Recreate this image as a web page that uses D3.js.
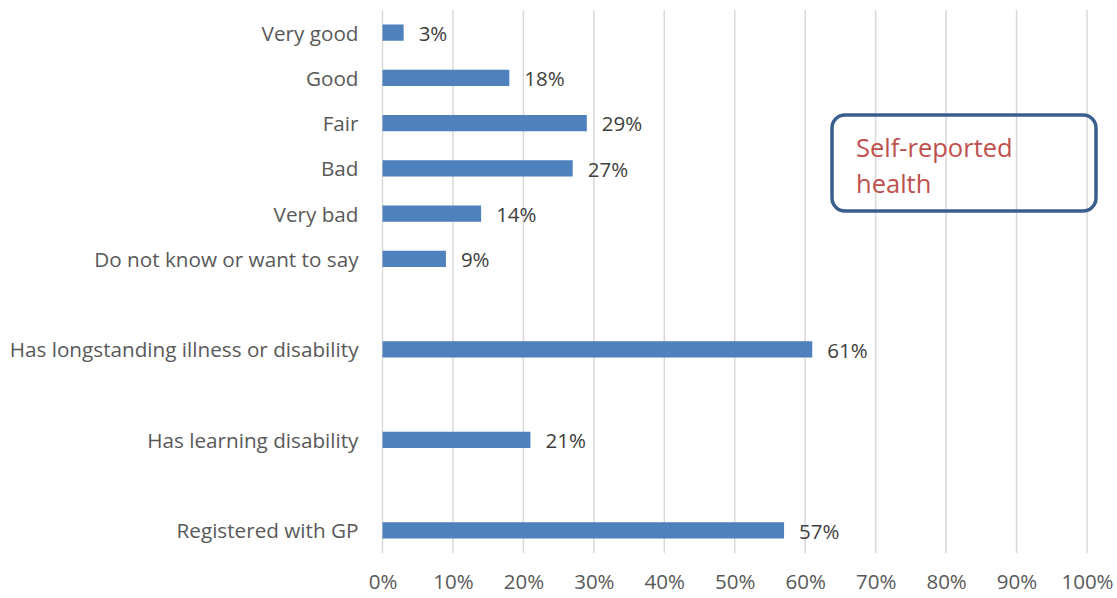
<!DOCTYPE html>
<html>
<head>
<meta charset="utf-8">
<script src="https://cdn.jsdelivr.net/npm/d3@7"></script>
<style>
  html, body { margin: 0; padding: 0; background: #fff; }
  svg text { font-family: "Open Sans", Lato, "Liberation Sans", sans-serif; }
</style>
</head>
<body>
<svg id="chart" width="1117" height="598"></svg>
<script>
// Category slots, top to bottom; empty strings are spacer rows between groups
const categories = [
  "Very good", "Good", "Fair", "Bad", "Very bad", "Do not know or want to say",
  "", "Has longstanding illness or disability",
  "", "Has learning disability",
  "", "Registered with GP"
];
// Percentage for each slot (null for spacer rows)
const values = [3, 18, 29, 27, 14, 9, null, 61, null, 21, null, 57];
const xTicks = [0, 10, 20, 30, 40, 50, 60, 70, 80, 90, 100];
const noteLines = ["Self-reported", "health"];

const svg = d3.select("#chart");
const margin = { top: 10, right: 30, bottom: 45, left: 382.5 };
const W = 1117, H = 598;
const innerW = W - margin.left - margin.right;
const innerH = H - margin.top - margin.bottom;

const slots = categories.map((c, i) => "slot" + i);
const x = d3.scaleLinear().domain([0, 100]).range([0, innerW]);
const y = d3.scaleBand().domain(slots).range([0, innerH]).paddingInner(0.64).paddingOuter(0.32);

const g = svg.append("g").attr("transform", `translate(${margin.left},${margin.top})`);

// Vertical gridlines
g.append("g").selectAll("line").data(xTicks).join("line")
  .attr("x1", d => x(d)).attr("x2", d => x(d))
  .attr("y1", 0).attr("y2", innerH)
  .attr("stroke", "#d9d9d9").attr("stroke-width", 1.5);

// X axis tick labels
const xAxis = d3.axisBottom(x).tickValues(xTicks).tickFormat(d => d + "%").tickSize(0).tickPadding(21);
const xa = g.append("g").attr("transform", `translate(0,${innerH})`).call(xAxis);
xa.select(".domain").remove();
xa.selectAll("text").attr("fill", "#595959").style("font-size", "20.5px");

// Y axis category labels
const yAxis = d3.axisLeft(y).tickFormat((d, i) => categories[i]).tickSize(0).tickPadding(24);
const ya = g.append("g").call(yAxis);
ya.select(".domain").remove();
ya.selectAll("text").attr("fill", "#595959")
  .attr("dy", "0.38em").style("font-size", "20.7px");

const rows = categories.map((c, i) => ({ slot: slots[i], v: values[i] })).filter(d => d.v != null);

// Bars
g.append("g").selectAll("rect").data(rows).join("rect")
  .attr("x", x(0))
  .attr("y", d => y(d.slot))
  .attr("width", d => x(d.v) - x(0))
  .attr("height", y.bandwidth())
  .attr("fill", "#4f81bd");

// Value labels
g.append("g").selectAll("text").data(rows).join("text")
  .attr("x", d => x(d.v) + 15)
  .attr("y", d => y(d.slot) + y.bandwidth() / 2)
  .attr("dy", "0.4em")
  .attr("fill", "#404040")
  .style("font-size", "20.5px")
  .text(d => d.v + "%");

// Annotation box
svg.append("rect")
  .attr("x", 832).attr("y", 115).attr("width", 264).attr("height", 96)
  .attr("rx", 13).attr("ry", 13)
  .attr("fill", "none").attr("stroke", "#3a5f8e").attr("stroke-width", 3.5);
svg.append("text")
  .attr("x", 856).attr("y", 157)
  .attr("fill", "#c0504d").style("font-size", "25.5px")
  .selectAll("tspan").data(noteLines).join("tspan")
  .attr("x", 856).attr("dy", (d, i) => i === 0 ? 0 : 36)
  .text(d => d);
</script>
</body>
</html>
